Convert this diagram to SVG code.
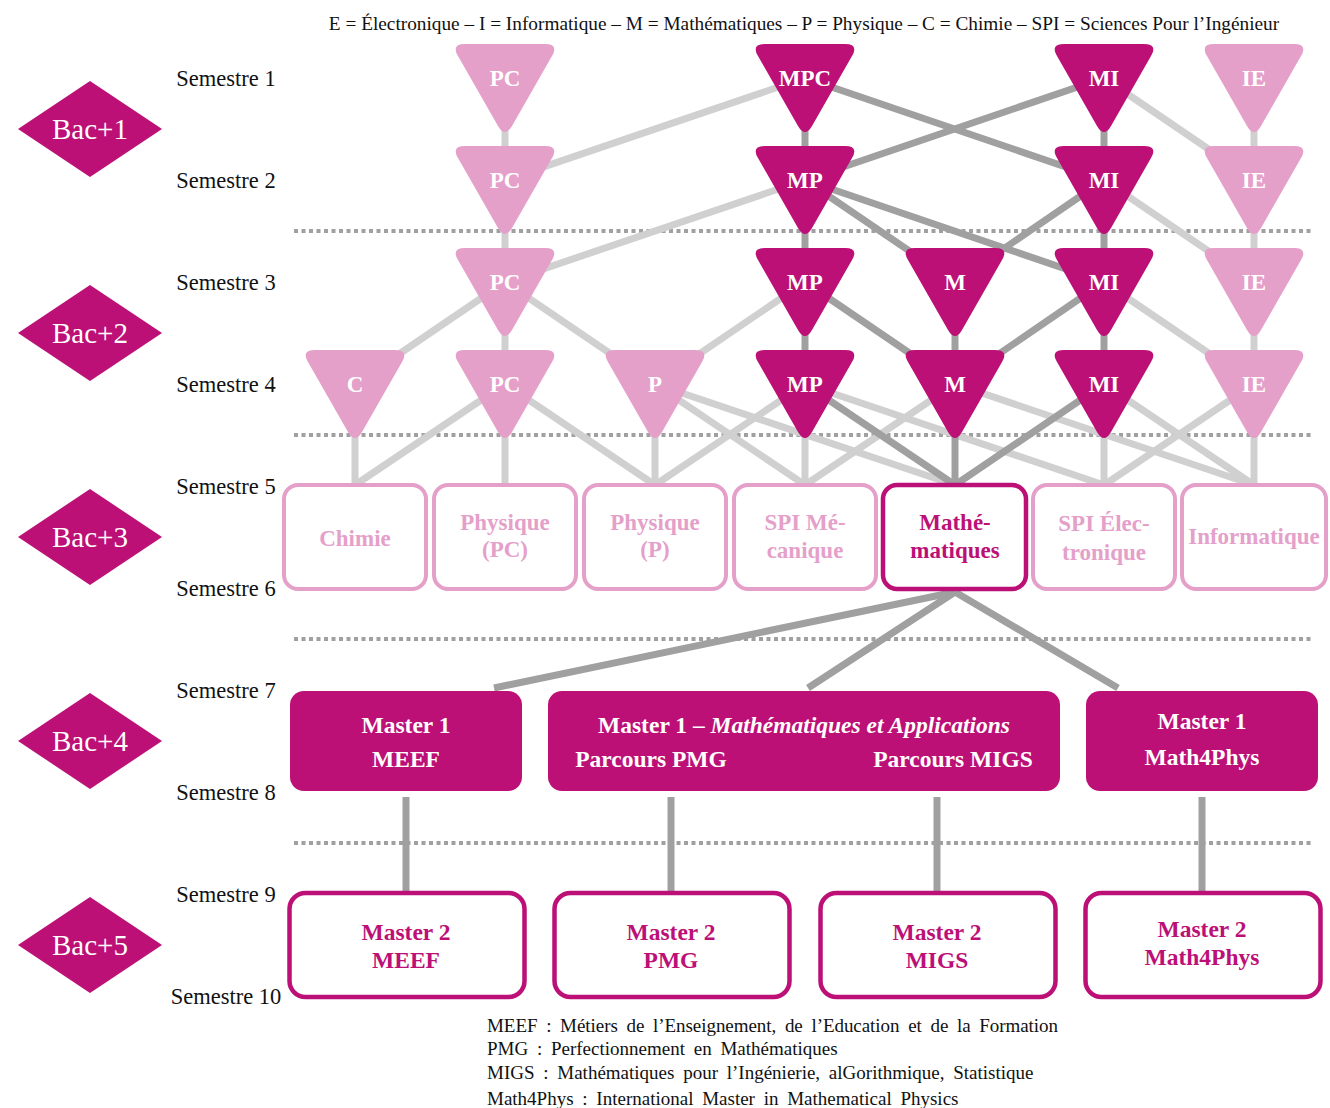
<svg xmlns="http://www.w3.org/2000/svg" width="1330" height="1108" viewBox="0 0 1330 1108">
<defs>
<style>
text{font-family:"Liberation Serif","Times New Roman",serif}
.hdr{font-size:19.3px;fill:#111}
.sem{font-size:22.5px;fill:#111;text-anchor:middle}
.bac{font-size:29px;fill:#fff;text-anchor:middle}
.dia{fill:#BC1077}
.tl{fill:#E5A0CA}
.td{fill:#BC1077}
.tt{font-size:23px;font-weight:bold;fill:#fff;text-anchor:middle}
.bl{fill:#fff;stroke:#E5A0CA;stroke-width:4}
.bd{fill:#fff;stroke:#BC1077;stroke-width:4.5}
.btl{font-size:23px;font-weight:bold;fill:#E5A0CA;text-anchor:middle}
.btd{font-size:23px;font-weight:bold;fill:#BC1077;text-anchor:middle}
.m2t{font-size:23.5px;font-weight:bold;fill:#BC1077;text-anchor:middle}
.m1{fill:#BC1077}
.m1t{font-size:23.5px;font-weight:bold;fill:#fff;text-anchor:middle}
.lg{font-size:19px;fill:#111;word-spacing:4px}
.cl{stroke:#D0D0D0;stroke-width:7;fill:none}
.cd{stroke:#A0A0A0;stroke-width:7;fill:none}
.dot{stroke:#A0A0A0;stroke-width:4;stroke-dasharray:4 3.5;fill:none}
</style>
<path id="tri" d="M -40,-34 L 40,-34 Q 54,-34 47,-21.9 L 7,47.9 Q 0,60 -7,47.9 L -47,-21.9 Q -54,-34 -40,-34 Z"/>
</defs>
<rect width="1330" height="1108" fill="#fff"/>

<text class="hdr" x="804" y="30" text-anchor="middle">E = Électronique – I = Informatique – M = Mathématiques – P = Physique – C = Chimie – SPI = Sciences Pour l’Ingénieur</text>

<g id="semesters">
<text class="sem" x="226" y="86">Semestre 1</text>
<text class="sem" x="226" y="188">Semestre 2</text>
<text class="sem" x="226" y="290">Semestre 3</text>
<text class="sem" x="226" y="392">Semestre 4</text>
<text class="sem" x="226" y="494">Semestre 5</text>
<text class="sem" x="226" y="596">Semestre 6</text>
<text class="sem" x="226" y="698">Semestre 7</text>
<text class="sem" x="226" y="800">Semestre 8</text>
<text class="sem" x="226" y="902">Semestre 9</text>
<text class="sem" x="226" y="1004">Semestre 10</text>
</g>

<g id="bac1"><polygon class="dia" points="18,129 90,81 162,129 90,177"/><text class="bac" x="90" y="139">Bac+1</text></g>
<g id="bac2"><polygon class="dia" points="18,333 90,285 162,333 90,381"/><text class="bac" x="90" y="343">Bac+2</text></g>
<g id="bac3"><polygon class="dia" points="18,537 90,489 162,537 90,585"/><text class="bac" x="90" y="547">Bac+3</text></g>
<g id="bac4"><polygon class="dia" points="18,741 90,693 162,741 90,789"/><text class="bac" x="90" y="751">Bac+4</text></g>
<g id="bac5"><polygon class="dia" points="18,945 90,897 162,945 90,993"/><text class="bac" x="90" y="955">Bac+5</text></g>

<g id="separators">
<line class="dot" x1="294" y1="231" x2="1312" y2="231"/>
<line class="dot" x1="294" y1="435" x2="1312" y2="435"/>
<line class="dot" x1="294" y1="639" x2="1312" y2="639"/>
<line class="dot" x1="294" y1="843" x2="1312" y2="843"/>
</g>

<g id="connectors">
<line class="cl" x1="505" y1="78" x2="505" y2="180"/>
<line class="cl" x1="805" y1="78" x2="505" y2="180"/>
<line class="cd" x1="805" y1="78" x2="805" y2="180"/>
<line class="cd" x1="805" y1="78" x2="1104" y2="180"/>
<line class="cd" x1="1104" y1="78" x2="805" y2="180"/>
<line class="cd" x1="1104" y1="78" x2="1104" y2="180"/>
<line class="cl" x1="1104" y1="78" x2="1254" y2="180"/>
<line class="cl" x1="1254" y1="78" x2="1254" y2="180"/>
<line class="cl" x1="505" y1="180" x2="505" y2="282"/>
<line class="cl" x1="805" y1="180" x2="505" y2="282"/>
<line class="cd" x1="805" y1="180" x2="805" y2="282"/>
<line class="cd" x1="805" y1="180" x2="955" y2="282"/>
<line class="cd" x1="805" y1="180" x2="1104" y2="282"/>
<line class="cd" x1="1104" y1="180" x2="955" y2="282"/>
<line class="cd" x1="1104" y1="180" x2="1104" y2="282"/>
<line class="cl" x1="1104" y1="180" x2="1254" y2="282"/>
<line class="cl" x1="1254" y1="180" x2="1254" y2="282"/>
<line class="cl" x1="505" y1="282" x2="355" y2="384"/>
<line class="cl" x1="505" y1="282" x2="505" y2="384"/>
<line class="cl" x1="505" y1="282" x2="655" y2="384"/>
<line class="cl" x1="805" y1="282" x2="655" y2="384"/>
<line class="cd" x1="805" y1="282" x2="805" y2="384"/>
<line class="cd" x1="805" y1="282" x2="955" y2="384"/>
<line class="cd" x1="955" y1="282" x2="955" y2="384"/>
<line class="cd" x1="1104" y1="282" x2="955" y2="384"/>
<line class="cd" x1="1104" y1="282" x2="1104" y2="384"/>
<line class="cl" x1="1104" y1="282" x2="1254" y2="384"/>
<line class="cl" x1="1254" y1="282" x2="1254" y2="384"/>
<line class="cl" x1="355" y1="384" x2="355" y2="485"/>
<line class="cl" x1="505" y1="384" x2="355" y2="485"/>
<line class="cl" x1="505" y1="384" x2="505" y2="485"/>
<line class="cl" x1="505" y1="384" x2="655" y2="485"/>
<line class="cl" x1="655" y1="384" x2="655" y2="485"/>
<line class="cl" x1="655" y1="384" x2="805" y2="485"/>
<line class="cl" x1="655" y1="384" x2="955" y2="485"/>
<line class="cl" x1="805" y1="384" x2="655" y2="485"/>
<line class="cl" x1="805" y1="384" x2="805" y2="485"/>
<line class="cl" x1="805" y1="384" x2="1104" y2="485"/>
<line class="cl" x1="955" y1="384" x2="805" y2="485"/>
<line class="cl" x1="955" y1="384" x2="1254" y2="485"/>
<line class="cl" x1="1104" y1="384" x2="1104" y2="485"/>
<line class="cl" x1="1104" y1="384" x2="1254" y2="485"/>
<line class="cl" x1="1254" y1="384" x2="1104" y2="485"/>
<line class="cl" x1="1254" y1="384" x2="1254" y2="485"/>
<line class="cd" x1="805" y1="384" x2="955" y2="485"/>
<line class="cd" x1="955" y1="384" x2="955" y2="485"/>
<line class="cd" x1="1104" y1="384" x2="955" y2="485"/>
<line class="cd" stroke-width="8" x1="955" y1="592" x2="494" y2="688"/>
<line class="cd" x1="955" y1="592" x2="808" y2="688"/>
<line class="cd" x1="955" y1="592" x2="1118" y2="688"/>
<line class="cd" x1="406" y1="797" x2="406" y2="891"/>
<line class="cd" x1="671" y1="797" x2="671" y2="891"/>
<line class="cd" x1="937" y1="797" x2="937" y2="891"/>
<line class="cd" x1="1202" y1="797" x2="1202" y2="891"/>
</g>

<g id="s1-pc"><use href="#tri" class="tl" x="505" y="78"/><text class="tt" x="505" y="86">PC</text></g>
<g id="s1-mpc"><use href="#tri" class="td" x="805" y="78"/><text class="tt" x="805" y="86">MPC</text></g>
<g id="s1-mi"><use href="#tri" class="td" x="1104" y="78"/><text class="tt" x="1104" y="86">MI</text></g>
<g id="s1-ie"><use href="#tri" class="tl" x="1254" y="78"/><text class="tt" x="1254" y="86">IE</text></g>
<g id="s2-pc"><use href="#tri" class="tl" x="505" y="180"/><text class="tt" x="505" y="188">PC</text></g>
<g id="s2-mp"><use href="#tri" class="td" x="805" y="180"/><text class="tt" x="805" y="188">MP</text></g>
<g id="s2-mi"><use href="#tri" class="td" x="1104" y="180"/><text class="tt" x="1104" y="188">MI</text></g>
<g id="s2-ie"><use href="#tri" class="tl" x="1254" y="180"/><text class="tt" x="1254" y="188">IE</text></g>
<g id="s3-pc"><use href="#tri" class="tl" x="505" y="282"/><text class="tt" x="505" y="290">PC</text></g>
<g id="s3-mp"><use href="#tri" class="td" x="805" y="282"/><text class="tt" x="805" y="290">MP</text></g>
<g id="s3-m"><use href="#tri" class="td" x="955" y="282"/><text class="tt" x="955" y="290">M</text></g>
<g id="s3-mi"><use href="#tri" class="td" x="1104" y="282"/><text class="tt" x="1104" y="290">MI</text></g>
<g id="s3-ie"><use href="#tri" class="tl" x="1254" y="282"/><text class="tt" x="1254" y="290">IE</text></g>
<g id="s4-c"><use href="#tri" class="tl" x="355" y="384"/><text class="tt" x="355" y="392">C</text></g>
<g id="s4-pc"><use href="#tri" class="tl" x="505" y="384"/><text class="tt" x="505" y="392">PC</text></g>
<g id="s4-p"><use href="#tri" class="tl" x="655" y="384"/><text class="tt" x="655" y="392">P</text></g>
<g id="s4-mp"><use href="#tri" class="td" x="805" y="384"/><text class="tt" x="805" y="392">MP</text></g>
<g id="s4-m"><use href="#tri" class="td" x="955" y="384"/><text class="tt" x="955" y="392">M</text></g>
<g id="s4-mi"><use href="#tri" class="td" x="1104" y="384"/><text class="tt" x="1104" y="392">MI</text></g>
<g id="s4-ie"><use href="#tri" class="tl" x="1254" y="384"/><text class="tt" x="1254" y="392">IE</text></g>

<g id="l3-chimie"><rect class="bl" x="284" y="485" width="142" height="104" rx="14"/><text class="btl" x="355" y="546">Chimie</text></g>
<g id="l3-phys-pc"><rect class="bl" x="434" y="485" width="142" height="104" rx="14"/><text class="btl" x="505" y="530">Physique</text><text class="btl" x="505" y="557">(PC)</text></g>
<g id="l3-phys-p"><rect class="bl" x="584" y="485" width="142" height="104" rx="14"/><text class="btl" x="655" y="530">Physique</text><text class="btl" x="655" y="557">(P)</text></g>
<g id="l3-spi-meca"><rect class="bl" x="734" y="485" width="142" height="104" rx="14"/><text class="btl" x="805" y="530">SPI Mé-</text><text class="btl" x="805" y="558">canique</text></g>
<g id="l3-maths"><rect class="bd" x="883" y="485" width="143" height="104" rx="14"/><text class="btd" x="955" y="530">Mathé-</text><text class="btd" x="955" y="558">matiques</text></g>
<g id="l3-spi-elec"><rect class="bl" x="1033" y="485" width="142" height="104" rx="14"/><text class="btl" x="1104" y="531">SPI Élec-</text><text class="btl" x="1104" y="560">tronique</text></g>
<g id="l3-info"><rect class="bl" x="1182" y="485" width="144" height="104" rx="14"/><text class="btl" x="1254" y="544">Informatique</text></g>

<g id="m1-meef"><rect class="m1" x="290" y="691" width="232" height="100" rx="14"/><text class="m1t" x="406" y="733">Master 1</text><text class="m1t" x="406" y="767">MEEF</text></g>
<g id="m1-ma"><rect class="m1" x="548" y="691" width="512" height="100" rx="14"/><text class="m1t" x="804" y="733">Master 1 – <tspan font-style="italic">Mathématiques et Applications</tspan></text><text class="m1t" x="651" y="767">Parcours PMG</text><text class="m1t" x="953" y="767">Parcours MIGS</text></g>
<g id="m1-m4p"><rect class="m1" x="1086" y="691" width="232" height="100" rx="14"/><text class="m1t" x="1202" y="729">Master 1</text><text class="m1t" x="1202" y="765">Math4Phys</text></g>

<g id="m2-meef"><rect class="bd" x="289.5" y="893" width="235" height="104" rx="16"/><text class="m2t" x="406" y="940">Master 2</text><text class="m2t" x="406" y="968">MEEF</text></g>
<g id="m2-pmg"><rect class="bd" x="554.5" y="893" width="235" height="104" rx="16"/><text class="m2t" x="671" y="940">Master 2</text><text class="m2t" x="671" y="968">PMG</text></g>
<g id="m2-migs"><rect class="bd" x="820.5" y="893" width="235" height="104" rx="16"/><text class="m2t" x="937" y="940">Master 2</text><text class="m2t" x="937" y="968">MIGS</text></g>
<g id="m2-m4p"><rect class="bd" x="1085.5" y="893" width="235" height="104" rx="16"/><text class="m2t" x="1202" y="937">Master 2</text><text class="m2t" x="1202" y="965">Math4Phys</text></g>

<g id="legend">
<text class="lg" x="487" y="1032" textLength="571" lengthAdjust="spacing">MEEF : Métiers de l’Enseignement, de l’Education et de la Formation</text>
<text class="lg" x="487" y="1055">PMG : Perfectionnement en Mathématiques</text>
<text class="lg" x="487" y="1079">MIGS : Mathématiques pour l’Ingénierie, alGorithmique, Statistique</text>
<text class="lg" x="487" y="1105">Math4Phys : International Master in Mathematical Physics</text>
</g>
</svg>
